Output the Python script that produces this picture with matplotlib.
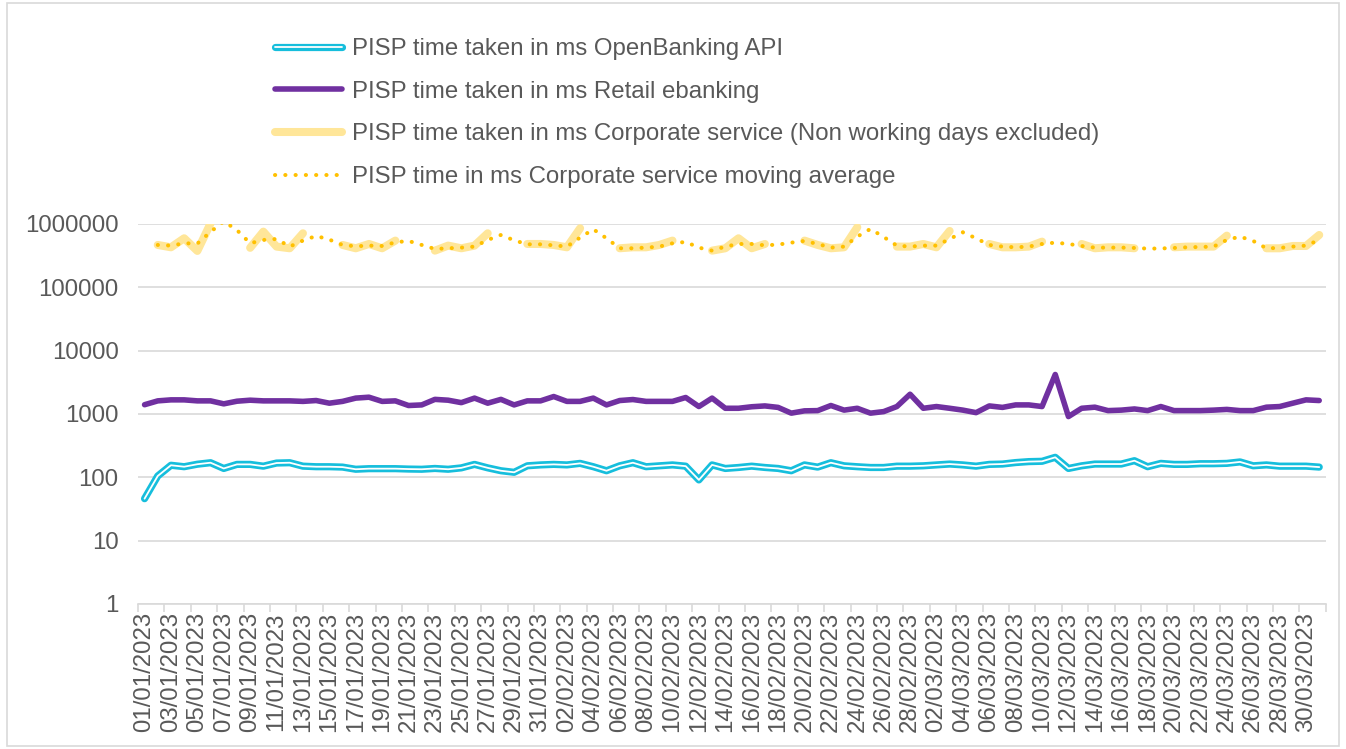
import matplotlib
matplotlib.use("Agg")
import matplotlib.pyplot as plt
import matplotlib.patheffects as pe
from matplotlib.patches import Rectangle
import numpy as np
import pandas as pd

plt.rcParams["font.family"] = ["Liberation Sans", "DejaVu Sans"]

# one value per calendar day, 01/01/2023 .. 31/03/2023
dates = pd.date_range("2023-01-01", "2023-03-31", freq="D")
date_labels = [d.strftime("%d/%m/%Y") for d in dates]

openbanking = [46, 105, 155, 147, 161, 170, 138, 160, 160, 150,
               168, 170, 150, 147, 147, 145, 134, 137, 137, 137,
               135, 134, 138, 134, 141, 160, 141, 127, 120, 152,
               157, 160, 157, 166, 147, 127, 152, 170, 147, 152,
               157, 150, 91, 157, 138, 143, 150, 143, 138, 127,
               157, 145, 170, 152, 147, 143, 143, 150, 150, 152,
               157, 162, 157, 150, 160, 162, 171, 177, 179, 207,
               138, 152, 162, 162, 162, 183, 147, 166, 160, 160,
               164, 164, 166, 175, 152, 157, 150, 150, 150, 145]

retail = [1400, 1610, 1670, 1670, 1610, 1610, 1445, 1590, 1650, 1610,
          1610, 1610, 1580, 1630, 1480, 1580, 1780, 1840, 1580, 1610,
          1360, 1390, 1700, 1650, 1510, 1780, 1480, 1700, 1390, 1610,
          1610, 1885, 1580, 1580, 1780, 1390, 1630, 1690, 1580, 1580,
          1580, 1820, 1310, 1780, 1230, 1230, 1300, 1340, 1270, 1030,
          1120, 1130, 1360, 1150, 1230, 1030, 1090, 1310, 2050, 1230,
          1310, 1230, 1150, 1050, 1340, 1270, 1390, 1390, 1310, 4200,
          910, 1230, 1280, 1130, 1150, 1200, 1130, 1310, 1130, 1130,
          1130, 1150, 1180, 1130, 1130, 1280, 1310, 1480, 1670, 1630]

nan = np.nan
# non working days left empty
corporate = [nan, 466e3, 428e3, 594e3, 375e3, 1.02e6, nan, nan, 420e3, 756e3,
             439e3, 413e3, 712e3, nan, nan, 466e3, 413e3, 483e3, 413e3, 546e3,
             nan, nan, 379e3, 455e3, 413e3, 455e3, 712e3, nan, nan, 483e3,
             483e3, 466e3, 428e3, 854e3, nan, nan, 413e3, 428e3, 428e3, 466e3,
             546e3, nan, nan, 379e3, 413e3, 594e3, 413e3, 483e3, nan, nan,
             546e3, 466e3, 413e3, 428e3, 886e3, nan, nan, 439e3, 439e3, 483e3,
             428e3, 775e3, nan, nan, 483e3, 428e3, 428e3, 439e3, 526e3, nan,
             nan, 483e3, 413e3, 428e3, 428e3, 413e3, nan, nan, 428e3, 439e3,
             439e3, 439e3, 654e3, nan, nan, 413e3, 413e3, 449e3, 449e3, 670e3]

corporate_ma = [nan, 466e3, 455e3, 495e3, 490e3, 750e3, 1.1e6, 800e3, 495e3, 559e3,
                579e3, 439e3, 546e3, 647e3, 566e3, 466e3, 444e3, 455e3, 449e3, 513e3,
                539e3, 466e3, 403e3, 413e3, 423e3, 439e3, 559e3, 670e3, 552e3, 477e3,
                477e3, 460e3, 439e3, 609e3, 824e3, 594e3, 413e3, 413e3, 423e3, 439e3,
                495e3, 520e3, 423e3, 379e3, 439e3, 483e3, 483e3, 460e3, 472e3, 507e3,
                539e3, 483e3, 423e3, 439e3, 631e3, 834e3, 623e3, 455e3, 439e3, 455e3,
                455e3, 579e3, 739e3, 594e3, 466e3, 439e3, 428e3, 439e3, 483e3, 507e3,
                483e3, 449e3, 423e3, 423e3, 423e3, 418e3, 408e3, 410e3, 418e3, 428e3,
                433e3, 439e3, 559e3, 631e3, 539e3, 413e3, 418e3, 439e3, 455e3, 559e3]

x = np.arange(len(dates))
grey = "#595959"
grid = "#D9D9D9"

fig = plt.figure(figsize=(13.46, 7.49), dpi=100)
ax = fig.add_axes([0.1025, 0.1936, 0.8825, 0.5074])

ax.plot(x, openbanking, color="white", lw=1.3, solid_capstyle="round",
        path_effects=[pe.Stroke(linewidth=5.2, foreground="#16BEDC"), pe.Normal()],
        label="PISP time taken in ms OpenBanking API", zorder=3)
ax.plot(x, retail, color="#7030A0", lw=4, solid_capstyle="round",
        label="PISP time taken in ms Retail ebanking", zorder=3)
ax.plot(x, corporate, color="#FFE699", lw=5.8, solid_capstyle="round",
        label="PISP time taken in ms Corporate service (Non working days excluded)", zorder=3)
ax.plot(x, corporate_ma, color="#FFC000", lw=2.9, linestyle=(0, (0.05, 2.5)),
        dash_capstyle="round",
        label="PISP time in ms Corporate service moving average", zorder=4)

ax.set_yscale("log")
ax.set_ylim(1, 1e6)
ax.set_xlim(-0.5, len(x) - 0.5)
ax.set_yticks([1, 10, 100, 1000, 10000, 100000, 1000000])
ax.set_yticklabels(["1", "10", "100", "1000", "10000", "100000", "1000000"])
ax.yaxis.set_minor_locator(matplotlib.ticker.NullLocator())
ax.yaxis.grid(True, color=grid, lw=1.2)
ax.set_axisbelow(True)
ax.tick_params(axis="y", length=0, pad=14, labelsize=17.3, labelcolor=grey)

ax.set_xticks(x[::2])
ax.set_xticklabels(date_labels[::2], rotation=90)
ax.set_xticks(np.arange(-0.5, len(x), 2), minor=True)
ax.tick_params(axis="x", which="major", length=0, pad=6, labelsize=17.3, labelcolor=grey)
ax.tick_params(axis="x", which="minor", length=6, color=grid, width=1.2)

for s in ["left", "right", "top"]:
    ax.spines[s].set_visible(False)
ax.spines["bottom"].set_color(grid)
ax.spines["bottom"].set_linewidth(1.2)

fig.legend(loc="upper left", bbox_to_anchor=(0.197, 0.962), frameon=False,
           fontsize=17.3, labelcolor=grey, handlelength=2.8, handletextpad=0.4,
           labelspacing=0.86, borderaxespad=0)

fig.patches.append(Rectangle((0.005, 0.004), 0.99, 0.992, transform=fig.transFigure,
                             fill=False, edgecolor=grid, lw=1.2))

fig.savefig("out.png", dpi=100)
